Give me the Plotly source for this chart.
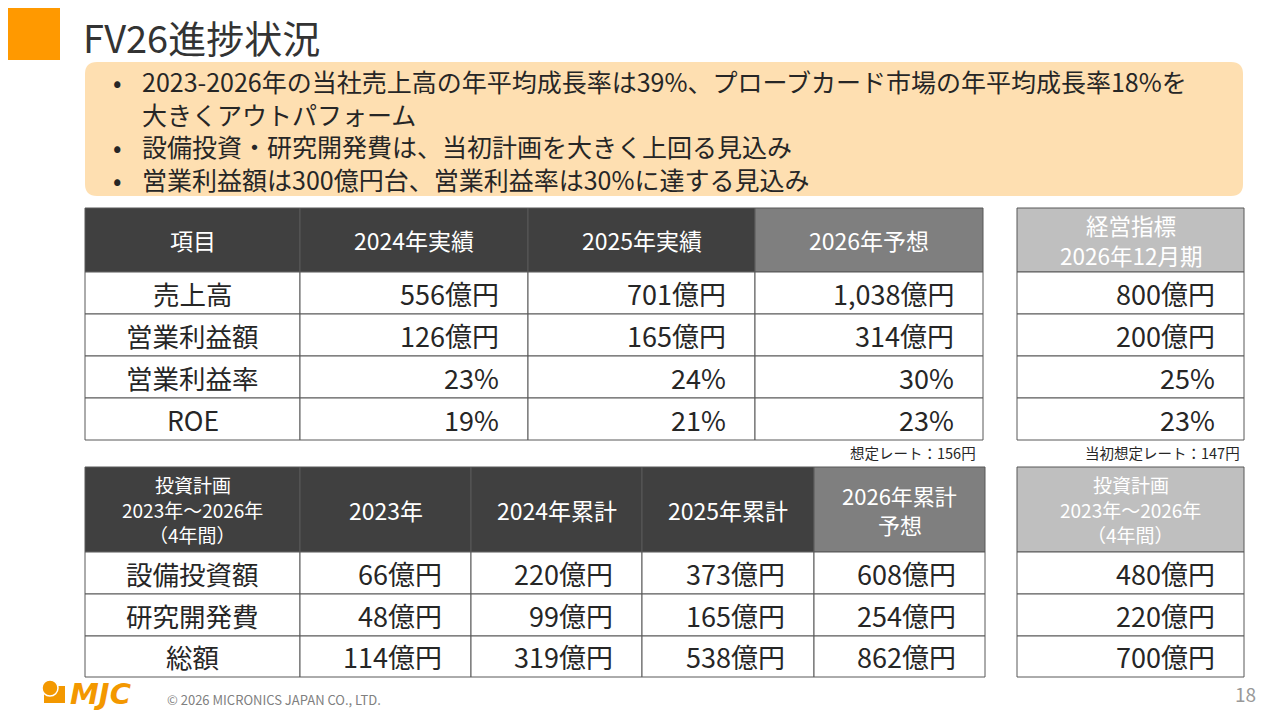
import plotly.graph_objects as go

# ---- data ----
bullet_lines = [
    "2023-2026年の当社売上高の年平均成長率は39%、プローブカード市場の年平均成長率18%を",
    "大きくアウトパフォーム",
    "設備投資・研究開発費は、当初計画を大きく上回る見込み",
    "営業利益額は300億円台、営業利益率は30%に達する見込み",
]
bullet_marks = ["•", "", "•", "•"]

t1_header = ["項目", "2024年実績", "2025年実績", "2026年予想"]
t1_items = ["売上高", "営業利益額", "営業利益率", "ROE"]
t1_sales = [556, 701, 1038]          # 億円
t1_op_profit = [126, 165, 314]       # 億円
t1_op_margin = [23, 24, 30]          # %
t1_roe = [19, 21, 23]                # %
t1_target_header = ["経営指標", "2026年12月期"]
t1_target = [800, 200, 25, 23]
t1_note = "想定レート：156円"
t1_target_note = "当初想定レート：147円"

t2_header = [["投資計画", "2023年～2026年", "（4年間）"], ["2023年"], ["2024年累計"],
             ["2025年累計"], ["2026年累計", "予想"]]
t2_items = ["設備投資額", "研究開発費", "総額"]
t2_capex = [66, 220, 373, 608]       # 億円
t2_rnd = [48, 99, 165, 254]          # 億円
t2_total = [114, 319, 538, 862]      # 億円
t2_plan_header = ["投資計画", "2023年～2026年", "（4年間）"]
t2_plan = [480, 220, 700]


def oku(v):
    return f"{v:,}億円"


def pct(v):
    return f"{v}%"


t1_rows = [
    [oku(v) for v in t1_sales],
    [oku(v) for v in t1_op_profit],
    [pct(v) for v in t1_op_margin],
    [pct(v) for v in t1_roe],
]
t1_target_txt = [oku(t1_target[0]), oku(t1_target[1]), pct(t1_target[2]), pct(t1_target[3])]
t2_rows = [[oku(v) for v in r] for r in (t2_capex, t2_rnd, t2_total)]
t2_plan_txt = [oku(v) for v in t2_plan]

# ---- styling ----
FONT = "Noto Sans CJK JP"
TXT = "#262626"
GRID = "#595959"
DARK = "#404040"
MID = "#7F7F7F"
LIGHT = "#BFBFBF"
PAD = 28
VAL = 27     # body text size
HDR = 23     # header text size

shapes = []
ann = []


def cell(x0, x1, y0, y1, fill):
    shapes.append(dict(type="rect", x0=x0, x1=x1, y0=y0, y1=y1, fillcolor=fill,
                       line=dict(color=GRID, width=1), layer="below"))


def label(x, y, text, size, color=TXT, xanchor="center", yanchor="middle"):
    ann.append(dict(x=x, y=y, text=text, showarrow=False, xanchor=xanchor, yanchor=yanchor,
                    align="left", borderpad=0, font=dict(family=FONT, size=size, color=color)))


def label_lines(x, yc, lines, size, gap, color="white"):
    top = yc - gap * (len(lines) - 1) / 2
    for k, t in enumerate(lines):
        label(x, top + k * gap, t, size, color)


# top-left orange block and title
shapes.append(dict(type="rect", x0=-10, x1=60, y0=-10, y1=60, fillcolor="#FF9900", line_width=0))
label(82, 36, "FV26進捗状況", 38, "#333333", "left")

# bullet box with rounded corners
bx0, bx1, by0, by1, r = 85, 1243, 62, 196, 12
path = (f"M {bx0+r},{by0} L {bx1-r},{by0} Q {bx1},{by0} {bx1},{by0+r} "
        f"L {bx1},{by1-r} Q {bx1},{by1} {bx1-r},{by1} L {bx0+r},{by1} "
        f"Q {bx0},{by1} {bx0},{by1-r} L {bx0},{by0+r} Q {bx0},{by0} {bx0+r},{by0} Z")
shapes.append(dict(type="path", path=path, fillcolor="#FEDFB1", line_width=0, layer="below"))
label(112, 130, "<br>".join(bullet_marks), 25, TXT, "left")
label(141, 130, "<br>".join(bullet_lines), 25, TXT, "left")

# ---- table 1 ----
t1_cols = [85, 300, 528, 755, 983]
t1_rowy = [208, 272, 314, 356, 398, 440]
hdr_fill = [DARK, DARK, DARK, MID]
for j, h in enumerate(t1_header):
    cell(t1_cols[j], t1_cols[j + 1], t1_rowy[0], t1_rowy[1], hdr_fill[j])
    label((t1_cols[j] + t1_cols[j + 1]) / 2, (t1_rowy[0] + t1_rowy[1]) / 2, h, HDR, "white")
for i, item in enumerate(t1_items):
    y0, y1 = t1_rowy[i + 1], t1_rowy[i + 2]
    cell(t1_cols[0], t1_cols[1], y0, y1, "white")
    label((t1_cols[0] + t1_cols[1]) / 2, (y0 + y1) / 2, item, VAL - 0.5)
    for j, v in enumerate(t1_rows[i]):
        cell(t1_cols[j + 1], t1_cols[j + 2], y0, y1, "white")
        label(t1_cols[j + 2] - PAD, (y0 + y1) / 2, v, VAL, TXT, "right")

# right target table 1
rt = [1017, 1244]
cell(rt[0], rt[1], t1_rowy[0], t1_rowy[1], LIGHT)
label_lines(sum(rt) / 2, (t1_rowy[0] + t1_rowy[1]) / 2, t1_target_header, 22.5, 30)
for i, v in enumerate(t1_target_txt):
    y0, y1 = t1_rowy[i + 1], t1_rowy[i + 2]
    cell(rt[0], rt[1], y0, y1, "white")
    label(rt[1] - PAD, (y0 + y1) / 2, v, VAL, TXT, "right")

label(977, 452, t1_note, 14.5, TXT, "right")
label(1241, 452, t1_target_note, 14.5, TXT, "right")

# ---- table 2 ----
t2_cols = [85, 300, 471, 642, 814, 985]
t2_rowy = [467, 552, 594, 636, 677]
hdr_fill2 = [DARK, DARK, DARK, DARK, MID]
hdr_size2 = [19, HDR, HDR, HDR, 22]
hdr_gap2 = [25, 0, 0, 0, 28.5]
for j, h in enumerate(t2_header):
    cell(t2_cols[j], t2_cols[j + 1], t2_rowy[0], t2_rowy[1], hdr_fill2[j])
    label_lines((t2_cols[j] + t2_cols[j + 1]) / 2, (t2_rowy[0] + t2_rowy[1]) / 2, h,
                hdr_size2[j], hdr_gap2[j])
for i, item in enumerate(t2_items):
    y0, y1 = t2_rowy[i + 1], t2_rowy[i + 2]
    cell(t2_cols[0], t2_cols[1], y0, y1, "white")
    label((t2_cols[0] + t2_cols[1]) / 2, (y0 + y1) / 2, item, VAL - 0.5)
    for j, v in enumerate(t2_rows[i]):
        cell(t2_cols[j + 1], t2_cols[j + 2], y0, y1, "white")
        label(t2_cols[j + 2] - PAD, (y0 + y1) / 2, v, VAL, TXT, "right")

cell(rt[0], rt[1], t2_rowy[0], t2_rowy[1], LIGHT)
label_lines(sum(rt) / 2, (t2_rowy[0] + t2_rowy[1]) / 2, t2_plan_header, 19, 25)
for i, v in enumerate(t2_plan_txt):
    y0, y1 = t2_rowy[i + 1], t2_rowy[i + 2]
    cell(rt[0], rt[1], y0, y1, "white")
    label(rt[1] - PAD, (y0 + y1) / 2, v, VAL, TXT, "right")

# ---- footer ----
ORANGE = "#F39800"
shapes.append(dict(type="rect", x0=44, x1=65, y0=686, y1=703, fillcolor=ORANGE, line_width=0))
shapes.append(dict(type="circle", x0=42, x1=58, y0=680, y1=696, fillcolor=ORANGE,
                   line=dict(color="white", width=1.5)))
ann.append(dict(x=68, y=694, text="<b><i>MJC</i></b>", showarrow=False, xanchor="left",
                yanchor="middle", font=dict(family="DejaVu Sans", size=29, color=ORANGE)))
label(166, 699, "© 2026 MICRONICS JAPAN CO., LTD.", 13, "#808080", "left")
label(1257, 693, "18", 19, "#999999", "right")

fig = go.Figure()
# the page puts the figure 8px in from the corner, so the ranges are offset to match
fig.update_layout(
    width=1280, height=720,
    margin=dict(l=0, r=0, t=0, b=0),
    paper_bgcolor="white", plot_bgcolor="white",
    xaxis=dict(range=[8, 1288], visible=False, fixedrange=True),
    yaxis=dict(range=[728, 8], visible=False, fixedrange=True),
    shapes=shapes, annotations=ann, showlegend=False,
)
fig.write_html("out.html")
